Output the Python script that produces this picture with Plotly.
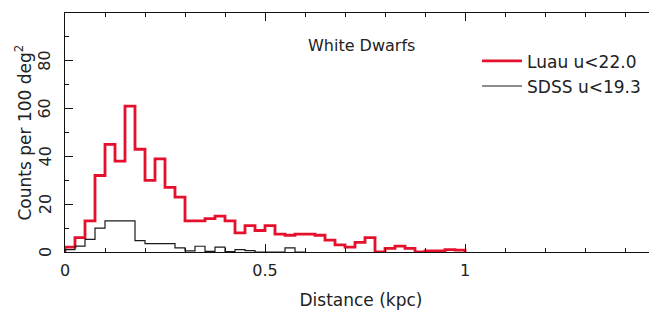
import plotly.graph_objects as go

# ---- data ----
BIN_WIDTH = 0.025  # kpc
luau_counts = [2, 6, 13, 32, 45, 38, 61, 43, 30, 39,
               27, 23, 13, 13, 14, 15, 13, 8, 11, 9,
               11, 7.5, 7, 7.5, 7.5, 7, 5, 3, 2, 4,
               6, 0, 1.5, 2.5, 1.5, 0, 0.5, 0.5, 1, 0.8]
sdss_counts = [1, 2.5, 5.3, 10, 13, 13, 13, 4.8, 3.5, 3.5,
               3.5, 1.7, 0.5, 2.4, 0.3, 2, 0.2, 1, 0.6, 0,
               0, 0, 1.7, 0]
series_names = ["Luau u<22.0", "SDSS u<19.3"]
x_ticks = [0, 0.5, 1]
x_tick_labels = ["0", "0.5", "1"]
y_ticks = [0, 20, 40, 60, 80]
y_tick_labels = ["0", "20", "40", "60", "80"]
panel_label = "White Dwarfs"
x_title = "Distance (kpc)"
y_title = "Counts per 100 deg<sup>2</sup>"


def step_xy(counts, width):
    edges = [i * width for i in range(len(counts) + 1)]
    xs = [edges[0]] + edges[:-1] + [edges[-1], edges[-1]]
    ys = [0] + list(counts) + [counts[-1], 0]
    return xs, ys


FONT = "DejaVu Sans"
TXT = "#222222"

fig = go.Figure()
for counts, name, color, lw in [
    (luau_counts, series_names[0], "#e5102c", 2.8),
    (sdss_counts, series_names[1], "#1a1a1a", 1.2),
]:
    xs, ys = step_xy(counts, BIN_WIDTH)
    fig.add_trace(go.Scatter(x=xs, y=ys, mode="lines", name=name,
                             line=dict(color=color, width=lw, shape="hv")))

axis_common = dict(
    showgrid=False, zeroline=False, showline=True, linecolor="#111111",
    linewidth=1, mirror="allticks", ticks="inside", tickcolor="#111111",
    ticklen=8, tickwidth=1, automargin=False,
    tickfont=dict(family=FONT, size=16, color=TXT),
)

annotations = [dict(text=panel_label, x=0.74, y=0.866, xref="x", yref="paper",
                    xanchor="center", yanchor="middle", showarrow=False,
                    font=dict(family=FONT, size=16, color=TXT)),
               dict(text=y_title, x=0, y=0.5, xref="paper", yref="paper",
                    xanchor="center", yanchor="middle", xshift=-42,
                    textangle=-90, showarrow=False,
                    font=dict(family=FONT, size=17, color=TXT))]
for val, lab in zip(y_ticks, y_tick_labels):
    annotations.append(dict(text=lab, x=0, y=val, xref="paper", yref="y",
                            xanchor="center", yanchor="middle", xshift=-20,
                            textangle=-90, showarrow=False,
                            font=dict(family=FONT, size=16, color=TXT)))

# the page body adds an 8px offset, so the figure is sized to fit the window
fig.update_layout(
    width=649, height=304,
    margin=dict(l=57, r=0, t=5, b=60),
    paper_bgcolor="white", plot_bgcolor="white",
    font=dict(family=FONT, size=16, color=TXT),
    xaxis=dict(range=[0, 1.48], tickvals=x_ticks, ticktext=x_tick_labels,
               ticklabelstandoff=4,
               minor=dict(dtick=0.1, tick0=0, ticks="inside", ticklen=4,
                          tickcolor="#111111", tickwidth=1),
               title=dict(text=x_title, font=dict(family=FONT, size=17, color=TXT),
                          standoff=14),
               **axis_common),
    yaxis=dict(range=[0, 100], tickvals=y_ticks, showticklabels=False,
               minor=dict(dtick=10, tick0=0, ticks="inside", ticklen=4,
                          tickcolor="#111111", tickwidth=1),
               **axis_common),
    showlegend=True,
    legend=dict(x=0.696, y=0.873, xanchor="left", yanchor="top",
                bgcolor="rgba(0,0,0,0)", font=dict(family=FONT, size=17, color=TXT),
                itemwidth=40, tracegroupgap=0),
    annotations=annotations,
)

fig.write_html("out.html")
